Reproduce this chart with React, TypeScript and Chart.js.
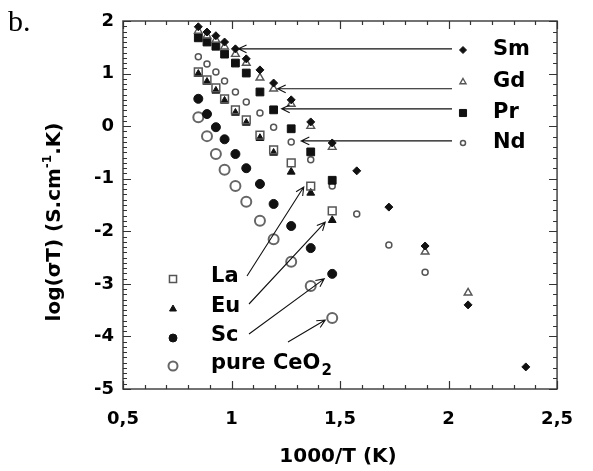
import React, { useEffect, useRef } from 'react';
import { Chart, registerables } from 'chart.js';

Chart.register(...registerables);

// ---- data ----
const invT = [0.847, 0.887, 0.928, 0.968, 1.018, 1.068, 1.131, 1.194, 1.275, 1.365, 1.464];

const smY = [1.89, 1.79, 1.72, 1.6, 1.47, 1.28, 1.07, 0.82, 0.5, 0.08, -0.32];
const smHighX = [1.577, 1.725, 1.892, 2.09, 2.356];
const smHighY = [-0.85, -1.54, -2.28, -3.4, -4.58];

const gdY = [1.81, 1.72, 1.64, 1.51, 1.37, 1.2, 0.92, 0.71, 0.42, 0.0, -0.4];
const gdHighX = [1.892, 2.09];
const gdHighY = [-2.39, -3.17];

const prY = [1.68, 1.6, 1.52, 1.37, 1.2, 1.01, 0.65, 0.31, -0.05, -0.49, -1.03];

const ndY = [1.32, 1.18, 1.03, 0.86, 0.65, 0.46, 0.25, -0.02, -0.3, -0.64, -1.14];
const ndHighX = [1.577, 1.725, 1.892];
const ndHighY = [-1.67, -2.26, -2.78];

const laY = [1.03, 0.88, 0.73, 0.52, 0.31, 0.12, -0.17, -0.45, -0.7, -1.14, -1.61];
const euY = [0.99, 0.84, 0.67, 0.48, 0.25, 0.06, -0.23, -0.51, -0.87, -1.27, -1.79];
const scY = [0.52, 0.23, -0.02, -0.25, -0.53, -0.8, -1.1, -1.48, -1.9, -2.32, -2.81];
const ceo2Y = [0.17, -0.19, -0.53, -0.83, -1.14, -1.44, -1.8, -2.15, -2.58, -3.04, -3.65];

const xTicks = [0.5, 1, 1.5, 2, 2.5];
const yTicks = [-5, -4, -3, -2, -1, 0, 1, 2];

const FONT = 'DejaVu Sans';

type Sty = { shape: string; r: number; fill: string | null; stroke: string; lw: number };
const styles: Record<string, Sty> = {
  Sm: { shape: 'rectRot', r: 4, fill: '#111', stroke: '#111', lw: 1 },
  Gd: { shape: 'triangle', r: 4.5, fill: null, stroke: '#555', lw: 1.4 },
  Pr: { shape: 'rect', r: 5.5, fill: '#111', stroke: '#111', lw: 1 },
  Nd: { shape: 'circle', r: 3, fill: null, stroke: '#555', lw: 1.5 },
  La: { shape: 'rect', r: 5.5, fill: null, stroke: '#555', lw: 1.5 },
  Eu: { shape: 'triangle', r: 4.5, fill: '#111', stroke: '#111', lw: 1 },
  Sc: { shape: 'circle', r: 4.5, fill: '#111', stroke: '#111', lw: 1 },
  CeO2: { shape: 'circle', r: 5, fill: null, stroke: '#666', lw: 2 },
};

const pts = (xs: number[], ys: number[]) => xs.map((x, i) => ({ x, y: ys[i] }));

function drawShape(ctx: CanvasRenderingContext2D, s: Sty, x: number, y: number, r: number) {
  ctx.beginPath();
  if (s.shape === 'circle') ctx.arc(x, y, r, 0, Math.PI * 2);
  else if (s.shape === 'rect') {
    const h = r * Math.SQRT1_2;
    ctx.rect(x - h, y - h, 2 * h, 2 * h);
  } else if (s.shape === 'rectRot') {
    ctx.moveTo(x, y - r); ctx.lineTo(x + r, y); ctx.lineTo(x, y + r); ctx.lineTo(x - r, y); ctx.closePath();
  } else if (s.shape === 'triangle') {
    ctx.moveTo(x, y - r); ctx.lineTo(x + 0.866 * r, y + 0.5 * r); ctx.lineTo(x - 0.866 * r, y + 0.5 * r); ctx.closePath();
  }
  if (s.fill) { ctx.fillStyle = s.fill; ctx.fill(); }
  ctx.strokeStyle = s.stroke; ctx.lineWidth = s.lw; ctx.stroke();
}

// label layout: marker position, text position, arrow from tail to a data point
const rightLegend = [
  { key: 'Sm', text: 'Sm', mx: 463, my: 50, r: 3.5, tipX: invT[4], tipY: smY[4], dx: 3, dy: 0 },
  { key: 'Gd', text: 'Gd', mx: 463, my: 82, r: 3.5, tipX: invT[7], tipY: gdY[7], dx: 4, dy: 0 },
  { key: 'Pr', text: 'Pr', mx: 463, my: 113, r: 5, tipX: invT[7], tipY: prY[7], dx: 8, dy: -1 },
  { key: 'Nd', text: 'Nd', mx: 463, my: 143, r: 2.5, tipX: invT[8], tipY: ndY[8], dx: 10, dy: -1 },
];
const leftLegend = [
  { key: 'La', text: 'La', mx: 173, my: 279, r: 5, tail: [247, 276], tipX: invT[9], tipY: laY[9], dx: -7, dy: 1 },
  { key: 'Eu', text: 'Eu', mx: 173, my: 309, r: 4, tail: [249, 304], tipX: invT[10], tipY: euY[10], dx: -7, dy: 2 },
  { key: 'Sc', text: 'Sc', mx: 173, my: 338, r: 4, tail: [249, 334], tipX: invT[10], tipY: scY[10], dx: -8, dy: 5 },
  { key: 'CeO2', text: 'pure CeO', mx: 173, my: 366, r: 4.5, tail: [288, 342], tipX: invT[10], tipY: ceo2Y[10], dx: -7, dy: 2 },
];

function arrow(ctx: CanvasRenderingContext2D, x0: number, y0: number, x1: number, y1: number) {
  ctx.beginPath();
  ctx.moveTo(x0, y0); ctx.lineTo(x1, y1);
  const a = Math.atan2(y1 - y0, x1 - x0);
  const L = 9, w = 0.45;
  ctx.moveTo(x1 - L * Math.cos(a - w), y1 - L * Math.sin(a - w));
  ctx.lineTo(x1, y1);
  ctx.lineTo(x1 - L * Math.cos(a + w), y1 - L * Math.sin(a + w));
  ctx.strokeStyle = '#111'; ctx.lineWidth = 1.1; ctx.stroke();
}

const decor = {
  id: 'decor',
  afterDatasetsDraw(chart: any) {
    const { ctx, chartArea: ca, scales } = chart;
    const xs = scales.x, ys = scales.y;
    ctx.save();
    // frame
    ctx.strokeStyle = '#444'; ctx.lineWidth = 1.5;
    ctx.strokeRect(ca.left, ca.top, ca.right - ca.left, ca.bottom - ca.top);
    // ticks
    ctx.strokeStyle = '#333'; ctx.lineWidth = 1.2;
    ctx.beginPath();
    for (let i = -50; i <= 20; i++) {
      const py = Math.round(ys.getPixelForValue(i / 10)) + 0.5;
      const len = i % 10 === 0 ? 8 : 4;
      ctx.moveTo(ca.left, py); ctx.lineTo(ca.left + len, py);
      if (i % 2 === 0) {
        const lr = i % 10 === 0 ? 8 : 4;
        ctx.moveTo(ca.right, py); ctx.lineTo(ca.right - lr, py);
      }
    }
    for (let i = 5; i <= 25; i++) {
      const px = Math.round(xs.getPixelForValue(i / 10)) + 0.5;
      const len = i % 5 === 0 ? 8 : 4;
      ctx.moveTo(px, ca.bottom); ctx.lineTo(px, ca.bottom - len);
      ctx.moveTo(px, ca.top); ctx.lineTo(px, ca.top + len);
    }
    ctx.stroke();

    // legends + arrows
    ctx.fillStyle = '#000';
    ctx.textBaseline = 'middle';
    ctx.textAlign = 'left';
    ctx.font = `bold 21px "${FONT}"`;
    for (const l of rightLegend) {
      drawShape(ctx, styles[l.key], l.mx, l.my, l.r);
      ctx.fillStyle = '#000';
      ctx.fillText(l.text, 493, l.my);
      const tx = xs.getPixelForValue(l.tipX) + l.dx;
      const ty = ys.getPixelForValue(l.tipY) + l.dy;
      arrow(ctx, 452, ty, tx, ty);
    }
    for (const l of leftLegend) {
      drawShape(ctx, styles[l.key], l.mx, l.my, l.r);
      ctx.fillStyle = '#000';
      ctx.font = `bold 21px "${FONT}"`;
      ctx.fillText(l.text, 211, l.my - 2);
      if (l.key === 'CeO2') {
        const w = ctx.measureText(l.text).width;
        ctx.font = `bold 15px "${FONT}"`;
        ctx.fillText('2', 211 + w + 1, l.my + 5);
      }
      const tx = xs.getPixelForValue(l.tipX) + l.dx;
      const ty = ys.getPixelForValue(l.tipY) + l.dy;
      arrow(ctx, l.tail[0], l.tail[1], tx, ty);
    }

    // axis titles
    ctx.font = `bold 20px "${FONT}"`;
    ctx.textAlign = 'center';
    ctx.fillText('1000/T (K)', 338, 457);

    ctx.translate(55, 222);
    ctx.rotate(-Math.PI / 2);
    const parts = [
      { t: 'log(σT) (S.cm', f: `bold 20px "${FONT}"`, dy: 0 },
      { t: '-1', f: `bold 12px "${FONT}"`, dy: -7 },
      { t: '.K)', f: `bold 20px "${FONT}"`, dy: 0 },
    ];
    let total = 0;
    for (const p of parts) { ctx.font = p.f; total += ctx.measureText(p.t).width; }
    let cx = -total / 2;
    ctx.textAlign = 'left';
    for (const p of parts) {
      ctx.font = p.f;
      ctx.fillText(p.t, cx, p.dy);
      cx += ctx.measureText(p.t).width;
    }
    ctx.restore();

    // panel letter
    ctx.save();
    ctx.fillStyle = '#000';
    ctx.font = '30px "Liberation Serif"';
    ctx.textBaseline = 'alphabetic';
    ctx.textAlign = 'left';
    ctx.fillText('b.', 8, 31);
    ctx.restore();
  },
};

function ds(label: string, data: { x: number; y: number }[]) {
  const s = styles[label];
  return {
    label,
    data,
    showLine: false,
    pointStyle: s.shape,
    pointRadius: s.r,
    pointBackgroundColor: s.fill ?? 'rgba(0,0,0,0)',
    pointBorderColor: s.stroke,
    pointBorderWidth: s.lw,
  };
}

export default function App() {
  const ref = useRef<HTMLCanvasElement>(null);
  useEffect(() => {
    if (!ref.current) return;
    const fmt = (v: number) => String(v).replace('.', ',');
    const chart = new Chart(ref.current, {
      type: 'scatter',
      data: {
        datasets: [
          ds('Sm', [...pts(invT, smY), ...pts(smHighX, smHighY)]),
          ds('Gd', [...pts(invT, gdY), ...pts(gdHighX, gdHighY)]),
          ds('Pr', pts(invT, prY)),
          ds('Nd', [...pts(invT, ndY), ...pts(ndHighX, ndHighY)]),
          ds('La', pts(invT, laY)),
          ds('Eu', pts(invT, euY)),
          ds('Sc', pts(invT, scY)),
          ds('CeO2', pts(invT, ceo2Y)),
        ],
      },
      options: {
        responsive: false,
        animation: false,
        devicePixelRatio: 1,
        layout: { padding: { left: 0, right: 26, top: 21, bottom: 0 } },
        plugins: { legend: { display: false }, tooltip: { enabled: false } },
        scales: {
          x: {
            type: 'linear',
            min: 0.5,
            max: 2.5,
            afterBuildTicks: (s: any) => { s.ticks = xTicks.map((v) => ({ value: v })); },
            afterFit: (s: any) => { s.height = 82; },
            ticks: {
              callback: (v: any) => fmt(v),
              font: { family: FONT, size: 18, weight: 'bold' },
              color: '#000',
              padding: 20,
              maxRotation: 0,
              autoSkip: false,
            },
            grid: { display: false, drawTicks: false },
            border: { display: false },
          },
          y: {
            type: 'linear',
            min: -5,
            max: 2,
            afterBuildTicks: (s: any) => { s.ticks = yTicks.map((v) => ({ value: v })); },
            afterFit: (s: any) => { s.width = 123; },
            ticks: {
              callback: (v: any) => fmt(v),
              font: { family: FONT, size: 18, weight: 'bold' },
              color: '#000',
              padding: 9,
              autoSkip: false,
            },
            grid: { display: false, drawTicks: false },
            border: { display: false },
          },
        },
      } as any,
      plugins: [decor],
    });
    return () => chart.destroy();
  }, []);
  return (
    <div style={{ position: 'absolute', left: 0, top: 0, width: 593, height: 471, background: '#fff' }}>
      <canvas ref={ref} width={593} height={471} />
    </div>
  );
}
